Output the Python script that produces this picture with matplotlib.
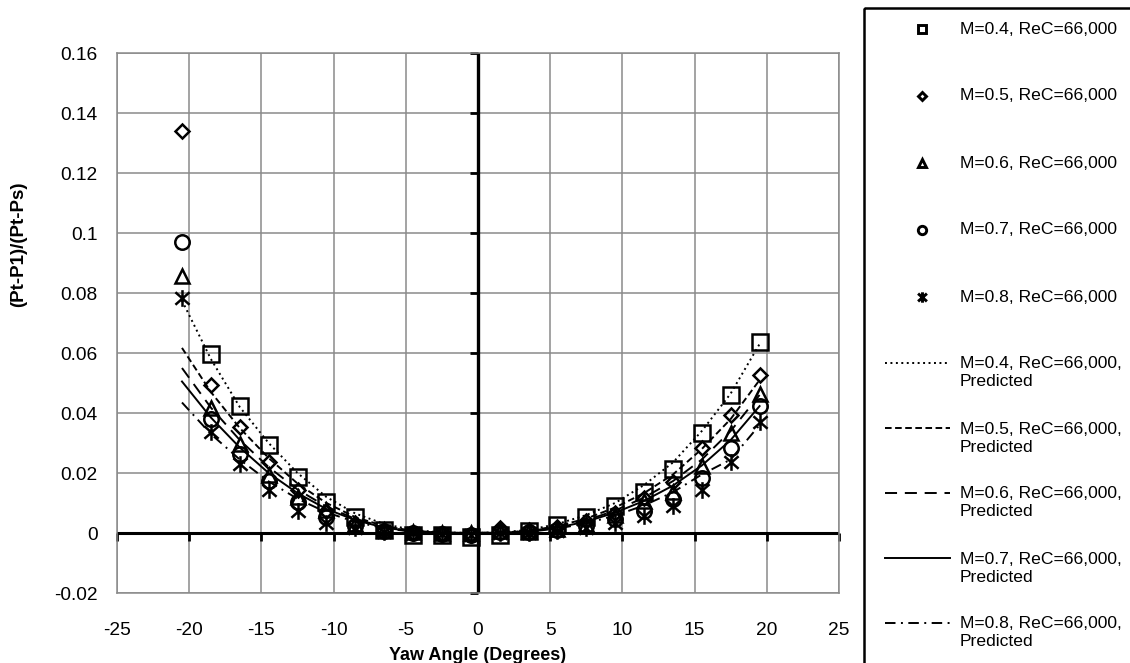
import matplotlib
matplotlib.use("Agg")
import matplotlib.pyplot as plt
from matplotlib.path import Path
from matplotlib.patches import Rectangle

plt.rcParams["font.family"] = ["Liberation Sans", "DejaVu Sans"]

nan = float("nan")

# Yaw angles of the measurements (degrees)
yaw = [-20.5, -18.5, -16.5, -14.5, -12.5, -10.5, -8.5, -6.5, -4.5, -2.5, -0.5,
       1.5, 3.5, 5.5, 7.5, 9.5, 11.5, 13.5, 15.5, 17.5, 19.5]

# Measured (Pt-P1)/(Pt-Ps)
m04 = [nan, 0.0597, 0.0425, 0.0295, 0.0188, 0.0105, 0.0052, 0.0010, -0.0008, -0.0008, -0.0014,
       -0.0008, 0.0008, 0.0027, 0.0053, 0.0090, 0.0137, 0.0213, 0.0333, 0.0460, 0.0637]
m05 = [0.1340, 0.0495, 0.0355, 0.0238, 0.0143, 0.0073, 0.0035, 0.0010, 0.0000, -0.0003, -0.0007,
       0.0018, 0.0010, 0.0020, 0.0040, 0.0068, 0.0117, 0.0170, 0.0283, 0.0392, 0.0527]
m06 = [0.0857, 0.0417, 0.0297, 0.0193, 0.0120, 0.0077, 0.0030, 0.0010, 0.0003, 0.0000, 0.0000,
       0.0007, 0.0007, 0.0013, 0.0030, 0.0060, 0.0107, 0.0137, 0.0225, 0.0335, 0.0462]
m07 = [0.0970, 0.0380, 0.0263, 0.0175, 0.0103, 0.0055, 0.0025, 0.0007, 0.0000, -0.0003, -0.0007,
       0.0003, 0.0003, 0.0010, 0.0023, 0.0047, 0.0073, 0.0113, 0.0185, 0.0283, 0.0423]
m08 = [0.0783, 0.0337, 0.0230, 0.0145, 0.0072, 0.0035, 0.0017, 0.0005, 0.0000, -0.0003, -0.0005,
       0.0000, 0.0000, 0.0007, 0.0017, 0.0033, 0.0057, 0.0090, 0.0145, 0.0238, 0.0370]

# Predicted (Pt-P1)/(Pt-Ps)
p04 = [0.0775, 0.0580, 0.0420, 0.0300, 0.0200, 0.0120, 0.0065, 0.0030, 0.0010, 0.0002, 0.0000,
       0.0002, 0.0010, 0.0030, 0.0060, 0.0100, 0.0160, 0.0235, 0.0340, 0.0465, 0.0630]
p05 = [0.0617, 0.0470, 0.0350, 0.0250, 0.0165, 0.0100, 0.0053, 0.0023, 0.0007, 0.0001, 0.0000,
       0.0001, 0.0007, 0.0023, 0.0048, 0.0085, 0.0133, 0.0195, 0.0280, 0.0380, 0.0510]
p06 = [0.0550, 0.0418, 0.0310, 0.0220, 0.0145, 0.0088, 0.0047, 0.0020, 0.0006, 0.0001, 0.0000,
       0.0001, 0.0006, 0.0020, 0.0042, 0.0075, 0.0118, 0.0173, 0.0245, 0.0340, 0.0460]
p07 = [0.0505, 0.0385, 0.0285, 0.0200, 0.0133, 0.0080, 0.0043, 0.0018, 0.0005, 0.0001, 0.0000,
       0.0001, 0.0005, 0.0018, 0.0038, 0.0068, 0.0107, 0.0158, 0.0225, 0.0310, 0.0423]
p08 = [0.0435, 0.0330, 0.0245, 0.0172, 0.0114, 0.0069, 0.0037, 0.0016, 0.0004, 0.0001, 0.0000,
       0.0001, 0.0004, 0.0015, 0.0032, 0.0058, 0.0092, 0.0136, 0.0195, 0.0245, 0.0360]

cases = ["M=0.4, ReC=66,000", "M=0.5, ReC=66,000", "M=0.6, ReC=66,000",
         "M=0.7, ReC=66,000", "M=0.8, ReC=66,000"]
measured = [m04, m05, m06, m07, m08]
predicted = [p04, p05, p06, p07, p08]

x_ticks = [-25, -20, -15, -10, -5, 0, 5, 10, 15, 20, 25]
y_ticks = [-0.02, 0.0, 0.02, 0.04, 0.06, 0.08, 0.1, 0.12, 0.14, 0.16]
y_tick_labels = ["-0.02", "0", "0.02", "0.04", "0.06", "0.08", "0.1", "0.12", "0.14", "0.16"]

# Excel style star: vertical bar plus an X
star = Path([(0, -1), (0, 1), (-0.85, -0.75), (0.85, 0.75), (-0.85, 0.75), (0.85, -0.75)],
            [Path.MOVETO, Path.LINETO, Path.MOVETO, Path.LINETO, Path.MOVETO, Path.LINETO])
markers = ["s", "D", "^", "o", star]
marker_sizes = [11.0, 7.4, 10.0, 10.4, 12.0]
legend_marker_sizes = [5.8, 4.4, 5.8, 6.0, 7.5]
line_styles = [(0, (1, 1.8)), (0, (3.4, 1.8)), (0, (6.2, 4.0)), "-", (0, (5.4, 2.8, 1.0, 2.8))]

W, H = 1130, 663
fig = plt.figure(figsize=(W / 100, H / 100), dpi=100)
ax = fig.add_axes([117 / W, 1 - 593 / H, (839 - 117) / W, (593 - 53) / H])

grid_col = "#8a8a8a"
for i in range(5):
    ax.plot(yaw, predicted[i], color="k", lw=1.4, linestyle=line_styles[i], zorder=3)
for i in range(5):
    ax.plot(yaw, measured[i], ls="none", marker=markers[i], ms=marker_sizes[i],
            mfc="none", mec="k", mew=1.8, zorder=4)

ax.set_xlim(-25, 25)
ax.set_ylim(-0.02, 0.16)
ax.set_xticks(x_ticks)
ax.set_xticklabels([str(t) for t in x_ticks])
ax.set_yticks(y_ticks)
ax.set_yticklabels(y_tick_labels)
ax.tick_params(axis="both", length=0, labelsize=13.8)
ax.tick_params(axis="x", pad=21)
ax.tick_params(axis="y", pad=14)
ax.grid(True, color=grid_col, lw=1.1, zorder=0)
ax.set_axisbelow(True)
for s in ax.spines.values():
    s.set_color(grid_col)
    s.set_linewidth(1.1)

# axes through the origin, with their tick marks
ax.axhline(0, color="k", lw=2.2, zorder=2.5)
ax.axvline(0, color="k", lw=2.4, zorder=2.5)
ax.plot(x_ticks, [0] * len(x_ticks), ls="none", marker=3, ms=6, mew=2, color="k",
        clip_on=False, zorder=2.5)
ax.plot([0] * len(y_ticks), y_ticks, ls="none", marker=0, ms=6, mew=2, color="k",
        clip_on=False, zorder=2.5)

ax.set_xlabel("Yaw Angle (Degrees)", fontsize=13, fontweight="bold")
ax.xaxis.set_label_coords(0.5, -0.1)
ax.set_ylabel("(Pt-P1)/(Pt-Ps)", fontsize=13.5, fontweight="bold")
ax.yaxis.set_label_coords(-0.125, 0.645)

# legend panel, laid out in pixels
lax = fig.add_axes([0, 0, 1, 1])
lax.set_xlim(0, W)
lax.set_ylim(H, 0)
lax.axis("off")
lax.add_patch(Rectangle((864, 8), 400, 700, fill=False, ec="k", lw=1.8, clip_on=False))

text_x = 960
for i, lab in enumerate(cases):
    yy = 29 + i * 67
    lax.plot([922], [yy], ls="none", marker=markers[i], ms=legend_marker_sizes[i],
             mfc="none", mec="k", mew=2.1)
    lax.text(text_x, yy, lab, fontsize=12.6, va="center", ha="left")
for i, lab in enumerate(cases):
    yy = 363 + i * 65
    lax.plot([885, 950], [yy, yy], color="k", lw=1.4, linestyle=line_styles[i])
    lax.text(text_x, yy + 10, lab + ",\nPredicted", fontsize=12.6, va="center", ha="left",
             linespacing=1.25)

fig.savefig("out.png", dpi=100)
